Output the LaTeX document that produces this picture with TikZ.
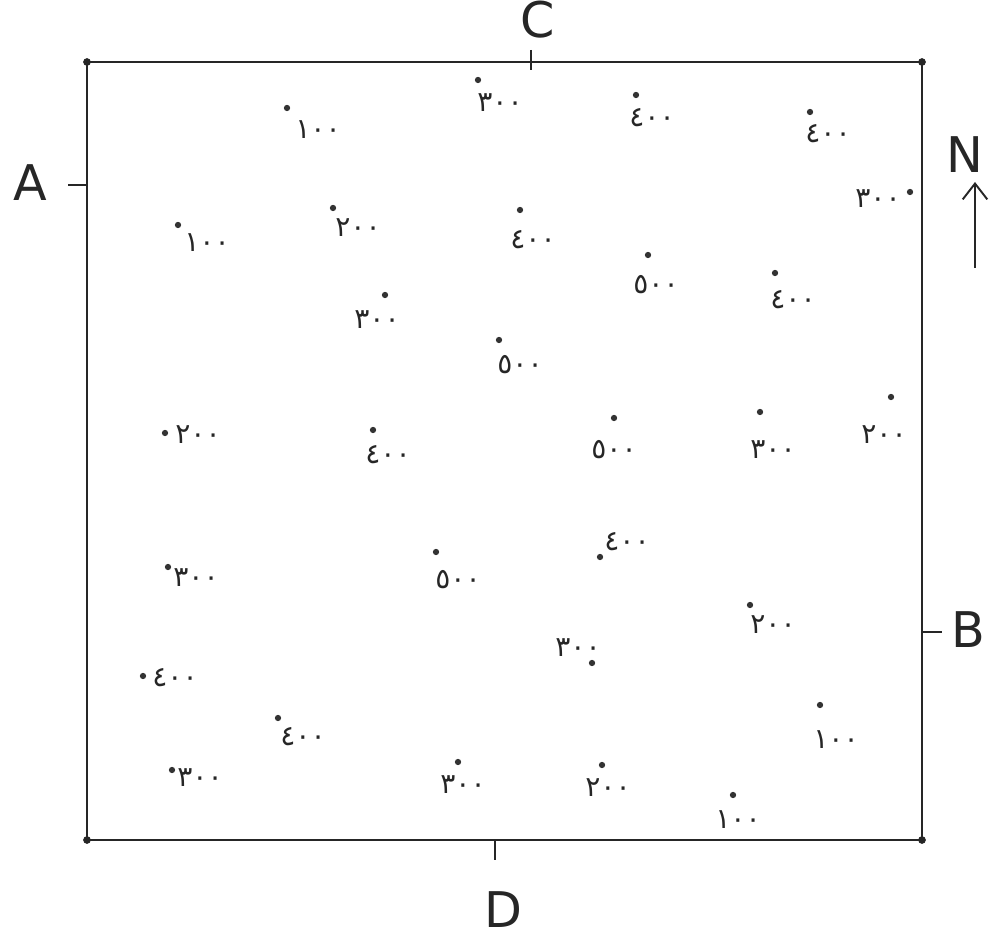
\documentclass[tikz,border=0pt]{standalone}
\usepackage{fontspec}
\setmainfont{DejaVu Sans}
\newfontfamily\arabicfont[Script=Arabic]{DejaVu Sans}
\usetikzlibrary{arrows.meta}
\begin{document}
\begin{tikzpicture}[x=0.02cm,y=-0.02cm,
  frame/.style={line width=1.1pt,draw=black!85},
  spot/.style={circle,fill=black!80,inner sep=0pt,minimum size=3.6pt},
  hgt/.style={font=\arabicfont\fontsize{16}{16}\selectfont,text=black!85,inner sep=1pt},
  letter/.style={font=\fontsize{28}{28}\selectfont,text=black!85,inner sep=0pt},
  tick/.style={line width=1.1pt,draw=black!85}]
\useasboundingbox (0,0) rectangle (992,939);
% frame
\coordinate (tl) at (87,62);
\coordinate (tr) at (922,62);
\coordinate (br) at (922,840);
\coordinate (bl) at (87,840);
\draw[frame] (tl) -- (tr) -- (br) -- (bl) -- cycle;
\foreach \c in {tl,tr,br,bl} \fill[black!85] (\c) circle (2.2pt);
% edge ticks and letters
\coordinate (ta1) at (68,185); \coordinate (ta2) at (87,185);
\draw[tick] (ta1) -- (ta2);
\node[letter] (A) at (30,183) {A};
\coordinate (tc1) at (531,50); \coordinate (tc2) at (531,70);
\draw[tick] (tc1) -- (tc2);
\node[letter] (C) at (538,20) {C};
\coordinate (tb1) at (922,632); \coordinate (tb2) at (942,632);
\draw[tick] (tb1) -- (tb2);
\node[letter] (B) at (968,630) {B};
\coordinate (td1) at (495,840); \coordinate (td2) at (495,860);
\draw[tick] (td1) -- (td2);
\node[letter] (D) at (503,910) {D};
% north arrow
\node[letter] (N) at (965,155) {N};
\coordinate (n1) at (975,268);
\coordinate (n2) at (975,182);
\draw[tick,-{Straight Barb[length=9pt,width=14pt]}] (n1) -- (n2);
% spot heights
\node[spot] (d1) at (287,108) {};  \node[hgt] (h1) at (318,130) {١٠٠};
\node[spot] (d2) at (478,80) {};   \node[hgt] (h2) at (500,103) {٣٠٠};
\node[spot] (d3) at (636,95) {};   \node[hgt] (h3) at (652,118) {٤٠٠};
\node[spot] (d4) at (810,112) {};  \node[hgt] (h4) at (828,134) {٤٠٠};
\node[spot] (d5) at (910,192) {};  \node[hgt] (h5) at (878,199) {٣٠٠};
\node[spot] (d6) at (178,225) {};  \node[hgt] (h6) at (207,243) {١٠٠};
\node[spot] (d7) at (333,208) {};  \node[hgt] (h7) at (358,228) {٢٠٠};
\node[spot] (d8) at (520,210) {};  \node[hgt] (h8) at (533,240) {٤٠٠};
\node[spot] (d9) at (385,295) {};  \node[hgt] (h9) at (377,320) {٣٠٠};
\node[spot] (d10) at (648,255) {}; \node[hgt] (h10) at (656,285) {٥٠٠};
\node[spot] (d11) at (775,273) {}; \node[hgt] (h11) at (793,300) {٤٠٠};
\node[spot] (d12) at (499,340) {}; \node[hgt] (h12) at (520,365) {٥٠٠};
\node[spot] (d13) at (165,433) {}; \node[hgt] (h13) at (198,435) {٢٠٠};
\node[spot] (d14) at (373,430) {}; \node[hgt] (h14) at (388,455) {٤٠٠};
\node[spot] (d15) at (614,418) {}; \node[hgt] (h15) at (614,450) {٥٠٠};
\node[spot] (d16) at (760,412) {}; \node[hgt] (h16) at (773,450) {٣٠٠};
\node[spot] (d17) at (891,397) {}; \node[hgt] (h17) at (884,435) {٢٠٠};
\node[spot] (d18) at (168,567) {}; \node[hgt] (h18) at (196,578) {٣٠٠};
\node[spot] (d19) at (436,552) {}; \node[hgt] (h19) at (458,580) {٥٠٠};
\node[spot] (d20) at (600,557) {}; \node[hgt] (h20) at (627,542) {٤٠٠};
\node[spot] (d21) at (750,605) {}; \node[hgt] (h21) at (773,625) {٢٠٠};
\node[spot] (d22) at (592,663) {}; \node[hgt] (h22) at (578,648) {٣٠٠};
\node[spot] (d23) at (143,676) {}; \node[hgt] (h23) at (175,678) {٤٠٠};
\node[spot] (d24) at (278,718) {}; \node[hgt] (h24) at (303,737) {٤٠٠};
\node[spot] (d25) at (820,705) {}; \node[hgt] (h25) at (836,740) {١٠٠};
\node[spot] (d26) at (172,770) {}; \node[hgt] (h26) at (200,778) {٣٠٠};
\node[spot] (d27) at (458,762) {}; \node[hgt] (h27) at (463,785) {٣٠٠};
\node[spot] (d28) at (602,765) {}; \node[hgt] (h28) at (608,788) {٢٠٠};
\node[spot] (d29) at (733,795) {}; \node[hgt] (h29) at (738,820) {١٠٠};
\end{tikzpicture}
\end{document}
